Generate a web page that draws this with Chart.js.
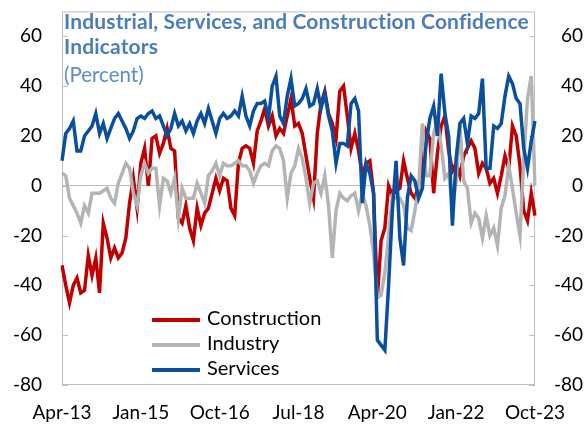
<!DOCTYPE html>
<html>
<head>
<meta charset="utf-8">
<script src="https://cdn.jsdelivr.net/npm/chart.js@4.4.1/dist/chart.umd.min.js"></script>
<style>
  body { margin: 0; background: #fff; }
  #wrap { position: relative; width: 587px; height: 425px; font-family: Lato, sans-serif; }
  #title { position: absolute; left: 64px; top: 8px; font-weight: bold; font-size: 21px; letter-spacing: 0.15px; line-height: 25px; color: #4a7ebb; }
  #sub { position: absolute; left: 64px; top: 62px; font-size: 20.5px; line-height: 24px; color: #5b8cc4; }
  .leg { position: absolute; left: 152px; font-size: 20px; line-height: 24px; color: #000; white-space: nowrap; }
  .leg span { display: inline-block; width: 48px; height: 4px; vertical-align: middle; margin-right: 7px; }
</style>
</head>
<body>
<div id="wrap">
  <canvas id="myChart" width="587" height="425"></canvas>
  <div id="title">Industrial, Services, and Construction Confidence<br>Indicators</div>
  <div id="sub">(Percent)</div>
  <div class="leg" style="top:305px"><span style="background:#c00000"></span>Construction</div>
  <div class="leg" style="top:330px"><span style="background:#b4b4b4"></span>Industry</div>
  <div class="leg" style="top:355px"><span style="background:#0a4f9e"></span>Services</div>
</div>
<script>
// monthly, Apr-13 .. Oct-23
const tickLabels = ['Apr-13', 'Jan-15', 'Oct-16', 'Jul-18', 'Apr-20', 'Jan-22', 'Oct-23'];
const yTicks = [-80, -60, -40, -20, 0, 20, 40, 60];

const construction = [
  -32, -40, -47, -40, -37, -43, -42, -28, -36, -29,
  -43, -15, -21, -29, -25, -29, -27, -21, -7, 3,
  -9, 9, 15, 0, 19, 20, 13, 17, 23, 15,
  14, -13, -15, -8, -17, -22, -9, -16, -11, -9,
  -3, 3, -2, 3, 2, -9, -12, 9, 15, 16,
  15, 9, 22, 26, 31, 24, 28, 20, 23, 21,
  28, 35, 24, 25, 21, 12, 3, -5, 21, 33,
  38, 29, 25, 19, 38, 40, 28, 15, 21, 14,
  4, 9, 10, -3, -45, -22, -17, 0, -4, -2,
  -1, 10, 3, -3, -5, 0, 8, 22, 19, -3,
  13, 24, 28, 14, 6, 9, 4, 12, 15, 18,
  15, 5, 9, 7, 1, 3, -3, 4, 12, 7,
  24, 20, 8, -10, -14, -3, -12
];
const industry = [
  5, 4, -5, -8, -11, -15, -8, -11, -3, -3,
  -3, -2, -1, -5, -7, 1, 5, 9, 7, -3,
  -8, 4, 9, 5, 7, 7, -8, 3, 2, -3,
  3, -13, -1, -5, -5, -5, 1, -3, -7, 4,
  6, 9, 4, 9, 8, 8, 9, 10, 8, 8,
  6, 1, 5, 8, 9, 8, 14, 16, 15, 10,
  -5, 5, 8, 15, 11, 3, -7, 1, 2, -3,
  4, -8, -29, -10, -3, -5, -6, -4, -3, -10,
  -3, -8, -16, -27, -45, -44, -35, -20, -4, -5,
  -5, -8, -17, -18, -10, -1, 25, 4, 4, 21,
  26, 16, 3, 5, -9, 2, 24, 2, -1, -15,
  -11, -13, -21, -12, -20, -17, -24, -9, -4, 8,
  -1, -11, -20, 10, 35, 44, 0
];
const services = [
  10, 21, 23, 26, 14, 14, 20, 22, 24, 29,
  21, 25, 19, 23, 27, 29, 26, 23, 19, 22,
  27, 28, 27, 29, 30, 27, 28, 24, 20, 23,
  29, 24, 26, 22, 25, 21, 26, 29, 25, 31,
  26, 21, 27, 29, 27, 28, 30, 28, 36, 28,
  24, 30, 33, 33, 34, 27, 40, 44, 28, 25,
  36, 43, 32, 33, 35, 39, 32, 33, 39, 31,
  37, 28, 22, 9, 17, 17, 16, 33, 35, 30,
  -7, 9, 5, -3, -62, -64, -66, -40, -10, 10,
  -21, -32, -5, 4, 2, -5, -1, 17, 27, 32,
  20, 45, 29, 20, -16, 11, 25, 27, 17, 28,
  27, 29, 43, 7, 7, 24, 23, 25, 36, 44,
  41, 35, 33, 15, 7, 18, 26
];

const monNames = ['Jan', 'Feb', 'Mar', 'Apr', 'May', 'Jun', 'Jul', 'Aug', 'Sep', 'Oct', 'Nov', 'Dec'];
const labels = construction.map((_, k) => monNames[(3 + k) % 12] + '-' + (13 + Math.floor((3 + k) / 12)));

const tickFont = { family: 'Lato', size: 19 };

// plot frame and the small inward tick marks
const framePlugin = {
  id: 'frame',
  beforeDatasetsDraw(chart) {
    const { ctx, chartArea: a, scales } = chart;
    ctx.save();
    ctx.strokeStyle = '#bfbfbf';
    ctx.lineWidth = 1;
    ctx.strokeRect(a.left + 0.5, a.top + 0.5, a.right - a.left - 1, a.bottom - a.top - 1);
    yTicks.forEach(v => {
      const y = Math.round(scales.y.getPixelForValue(v)) + 0.5;
      ctx.beginPath();
      ctx.moveTo(a.left, y); ctx.lineTo(a.left + 6, y);
      ctx.moveTo(a.right - 6, y); ctx.lineTo(a.right, y);
      ctx.stroke();
    });
    ctx.restore();
  }
};

function line(label, data, color, order) {
  return { label, data, borderColor: color, backgroundColor: color, borderWidth: 3.5,
    pointRadius: 0, tension: 0, fill: false, order };
}

new Chart(document.getElementById('myChart'), {
  type: 'line',
  data: {
    labels: labels,
    datasets: [
      line('Construction', construction, '#c00000', 2),
      line('Industry', industry, '#b4b4b4', 1),
      line('Services', services, '#0a4f9e', 0)
    ]
  },
  options: {
    responsive: false,
    animation: false,
    layout: { padding: { top: 0, left: 0, bottom: 0, right: 4 } },
    plugins: { legend: { display: false }, tooltip: { enabled: false } },
    scales: {
      x: {
        offset: false,
        grid: { display: false, drawTicks: false },
        border: { display: false },
        ticks: {
          autoSkip: false, maxRotation: 0, minRotation: 0, padding: 16, color: '#000', font: tickFont,
          callback: (v, i) => tickLabels.includes(labels[i]) ? labels[i] : ''
        },
        afterFit: s => { s.height = 40; }
      },
      y: {
        position: 'left', min: -80, max: 70,
        afterBuildTicks: s => { s.ticks = yTicks.map(v => ({ value: v })); },
        grid: {
          drawTicks: true, tickLength: 20, tickColor: 'rgba(0,0,0,0)',
          color: c => (c.tick && c.tick.value === 0) ? '#bfbfbf' : 'rgba(0,0,0,0)'
        },
        border: { display: false },
        ticks: { padding: 0, color: '#000', font: tickFont },
        afterFit: s => { s.width = 62; }
      },
      y2: {
        position: 'right', min: -80, max: 70,
        afterBuildTicks: s => { s.ticks = yTicks.map(v => ({ value: v })); },
        grid: { drawOnChartArea: false, drawTicks: true, tickLength: 14, tickColor: 'rgba(0,0,0,0)', color: 'rgba(0,0,0,0)' },
        border: { display: false },
        ticks: { padding: 0, crossAlign: 'far', color: '#000', font: tickFont },
        afterFit: s => { s.width = 48; }
      }
    }
  },
  plugins: [framePlugin]
});
</script>
</body>
</html>
